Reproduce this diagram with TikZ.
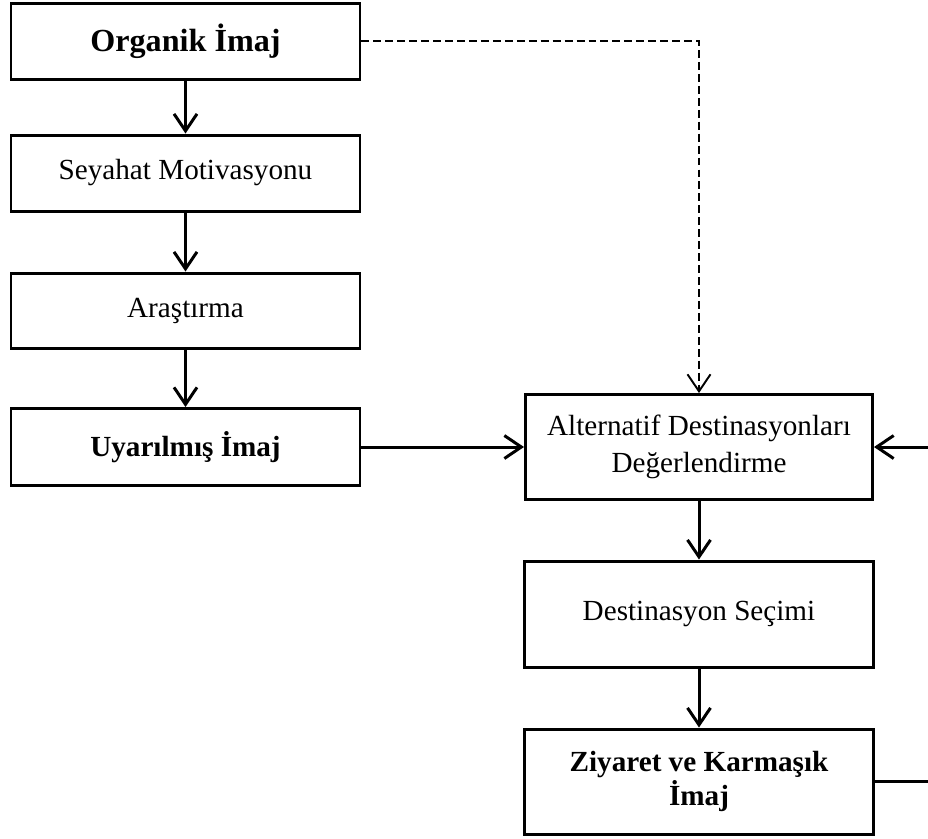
\documentclass[tikz,border=0pt]{standalone}
\usepackage{fontspec}
\setmainfont{Liberation Serif}
\usetikzlibrary{arrows.meta}
\tikzset{
  kasten/.style={draw,line width=1.7pt,minimum width=6.98cm,minimum height=1.52cm,
    inner sep=0pt,align=center,font=\fontsize{16.6}{19.3}\selectfont},
  pfeil/.style={->,line width=1.7pt},
  strich/.style={->,line width=1.1pt,dash pattern=on 4.5pt off 2.3pt}
}
\begin{document}
\begin{tikzpicture}[>={Straight Barb[length=3.4mm,width=4.6mm]}]
        \useasboundingbox (0,0) rectangle (18.56,-16.76);

        %linke Spalte
        \node[kasten,font=\fontsize{18.3}{21}\selectfont] (org) at (3.71,-0.82) {\textbf{Organik İmaj}};
        \node[kasten] (mot) at (3.71,-3.46) {Seyahat Motivasyonu};
        \node[kasten,minimum height=1.5cm] (ara) at (3.71,-6.21) {Araştırma};
        \node[kasten,minimum height=1.54cm] (uya) at (3.71,-8.94) {\textbf{Uyarılmış İmaj}};

        %rechte Spalte
        \node[kasten,minimum width=6.94cm,minimum height=2.1cm,font=\fontsize{16.6}{21}\selectfont] (alt) at (13.98,-8.94) {Alternatif Destinasyonları\\Değerlendirme};
        \node[kasten,minimum height=2.12cm] (des) at (13.98,-12.28) {Destinasyon Seçimi};
        \node[kasten,minimum height=2.1cm] (ziy) at (13.98,-15.63) {\textbf{Ziyaret ve Karmaşık}\\\textbf{İmaj}};

        \coordinate (rin) at (18.56,-8.94);
        \coordinate (rout) at (18.56,-15.63);

        \draw[pfeil] (org) -- (mot);
        \draw[pfeil] (mot) -- (ara);
        \draw[pfeil] (ara) -- (uya);
        \draw[pfeil] (uya) -- (alt);
        \draw[pfeil] (alt) -- (des);
        \draw[pfeil] (des) -- (ziy);
        \draw[strich] (org.east) -| (alt.north);

        %Rueckkopplung
        \draw[line width=1.7pt] (ziy.east) -- (rout);
        \draw[pfeil] (rin) -- (alt.east);
    \end{tikzpicture}
\end{document}
